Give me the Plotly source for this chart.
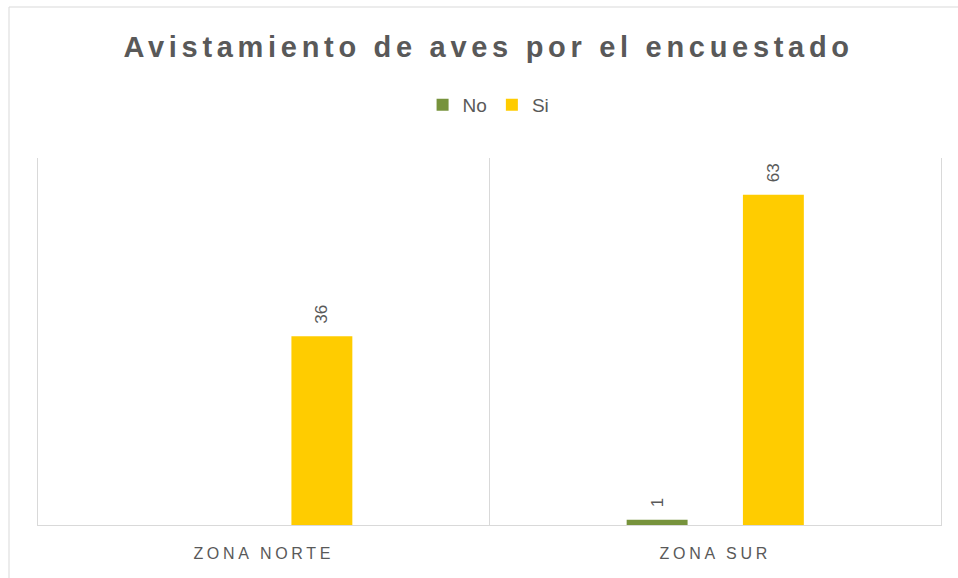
import plotly.graph_objects as go

# Survey data: did the respondent spot birds, by zone
zonas = ["ZONA NORTE", "ZONA SUR"]
no_vals = [None, 1]
si_vals = [36, 63]

title_text = "Avistamiento de aves por el encuestado"
gray_text = "#595959"
grid_gray = "#d9d9d9"


def spaced(txt, px):
    return f'<span style="letter-spacing:{px}px">{txt}</span>'


label_tpl = "\u00a0\u00a0%{y}"

fig = go.Figure()
fig.add_trace(go.Bar(
    name="No", x=zonas, y=no_vals,
    marker=dict(color="#77933C", line=dict(width=0)),
    texttemplate=label_tpl, textposition="outside", textangle=-90,
    textfont=dict(color=gray_text, size=17, family="Liberation Sans"),
    cliponaxis=False,
))
fig.add_trace(go.Bar(
    name="Si", x=zonas, y=si_vals,
    marker=dict(color="#FFCC00", line=dict(width=0)),
    texttemplate=label_tpl, textposition="outside", textangle=-90,
    textfont=dict(color=gray_text, size=17, family="Liberation Sans"),
    cliponaxis=False,
))

fig.update_layout(
    width=958, height=578,
    margin=dict(l=38, r=17, t=158, b=53),
    paper_bgcolor="white", plot_bgcolor="white",
    barmode="group", bargap=0.485, bargroupgap=0.476,
    title=dict(
        text=spaced(title_text, 4.7),
        font=dict(family="Liberation Sans", size=29, color=gray_text, weight="bold"),
        x=0.51, xanchor="center", xref="container",
        y=1 - 47 / 578, yanchor="middle", yref="container",
    ),
    legend=dict(
        orientation="h", x=0.51, xanchor="center", xref="container",
        y=1 - 105 / 578, yanchor="middle", yref="container",
        font=dict(family="Liberation Sans", size=19, color=gray_text),
        itemwidth=30, traceorder="normal",
    ),
    xaxis=dict(
        type="category",
        tickvals=zonas, ticktext=[spaced(z, 3.7) for z in zonas],
        tickson="boundaries", ticks="",
        showgrid=True, gridcolor=grid_gray, gridwidth=1,
        showline=True, linecolor=grid_gray, linewidth=1,
        tickfont=dict(family="Liberation Sans", size=16, color=gray_text),
        ticklabelstandoff=14,
        range=[-0.5, 1.5],
    ),
    yaxis=dict(
        range=[0, 70], showgrid=False, showticklabels=False, zeroline=False,
        showline=True, mirror=True, linecolor=grid_gray, linewidth=1, ticks="",
    ),
    showlegend=True,
    shapes=[dict(
        type="rect", xref="paper", yref="paper",
        x0=(9 - 38) / 903, x1=1.2, y0=-0.5, y1=(525 - 7) / 367,
        line=dict(color=grid_gray, width=1), fillcolor="rgba(0,0,0,0)",
        layer="below",
    )],
)

fig.write_html("out.html")
